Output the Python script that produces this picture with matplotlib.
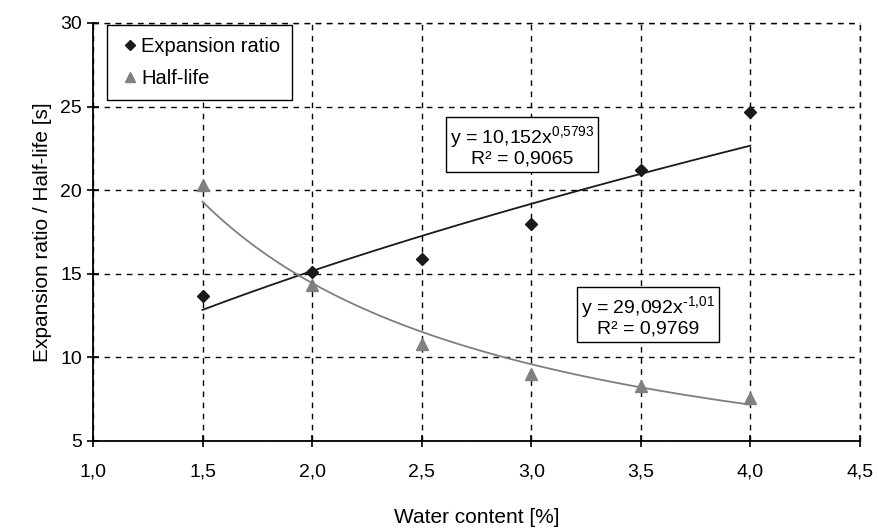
import numpy as np
import matplotlib.pyplot as plt

plt.rcParams['font.family'] = ['Liberation Sans', 'DejaVu Sans']
plt.rcParams['mathtext.fontset'] = 'custom'
plt.rcParams['mathtext.rm'] = 'Liberation Sans'

# data
water = [1.5, 2.0, 2.5, 3.0, 3.5, 4.0]
expansion = [13.7, 15.1, 15.9, 18.0, 21.2, 24.7]
half_life = [20.3, 14.3, 10.8, 9.0, 8.3, 7.6]

# power trend lines y = a * x^b, as printed on the chart
exp_a, exp_b = 10.152, 0.5793
hl_a, hl_b = 29.092, -1.01

fig = plt.figure(figsize=(8.79, 5.31), dpi=100)
ax = fig.add_axes([0.1058, 0.1695, 0.8725, 0.7872])

xs = np.linspace(min(water), max(water), 100)
ax.plot(xs, exp_a * xs ** exp_b, color='#1a1a1a', lw=1.3, zorder=3)
ax.plot(xs, hl_a * xs ** hl_b, color='#7f7f7f', lw=1.3, zorder=3)

ax.plot(water, expansion, 'D', color='#1a1a1a', ms=6.5, label='Expansion ratio', zorder=4)
ax.plot(water, half_life, '^', color='#808080', ms=9, label='Half-life', zorder=4)

ax.set_xlim(1.0, 4.5)
ax.set_ylim(5, 30)
ax.set_xticks(np.arange(1.0, 4.51, 0.5))
ax.set_yticks(np.arange(5, 31, 5))
ax.set_xticklabels([f'{v:.1f}'.replace('.', ',') for v in np.arange(1.0, 4.51, 0.5)])
ax.tick_params(direction='inout', length=8, width=1.2, labelsize=14, pad=12)
ax.tick_params(axis='y', pad=4)

ax.grid(True, color='black', linestyle=(0, (4, 4)), lw=1.0)
ax.spines['top'].set_visible(False)
ax.spines['right'].set_visible(False)
ax.spines['left'].set_linewidth(1.3)
ax.spines['bottom'].set_linewidth(1.3)
# dashed border lines at top and right
ax.axhline(30, color='black', linestyle=(0, (4, 4)), lw=1.0, clip_on=False)
ax.axvline(4.5, color='black', linestyle=(0, (4, 4)), lw=1.0, clip_on=False)

ax.set_xlabel('Water content [%]', fontsize=15, labelpad=20)
ax.set_ylabel('Expansion ratio / Half-life [s]', fontsize=15, labelpad=6)

leg = ax.legend(loc='upper left', bbox_to_anchor=(0.018, 0.995), borderaxespad=0,
                fontsize=14.5, frameon=True, fancybox=False, edgecolor='black',
                handletextpad=0.0, handlelength=1.1, borderpad=0.6, labelspacing=0.65,
                markerscale=0.85)
leg.get_frame().set_linewidth(1.0)
leg.get_frame().set_alpha(1)

box = dict(boxstyle='square,pad=0.2', fc='white', ec='black', lw=1.0)
ax.text(2.958, 22.64, 'y = 10,152x$^{\\text{0,5793}}$\nR² = 0,9065',
        ha='center', va='center', fontsize=14, linespacing=1.0, bbox=box, zorder=5)
ax.text(3.533, 12.48, 'y = 29,092x$^{\\text{-1,01}}$\nR² = 0,9769',
        ha='center', va='center', fontsize=14, linespacing=1.0, bbox=box, zorder=5)

plt.savefig('out.png', dpi=100)
